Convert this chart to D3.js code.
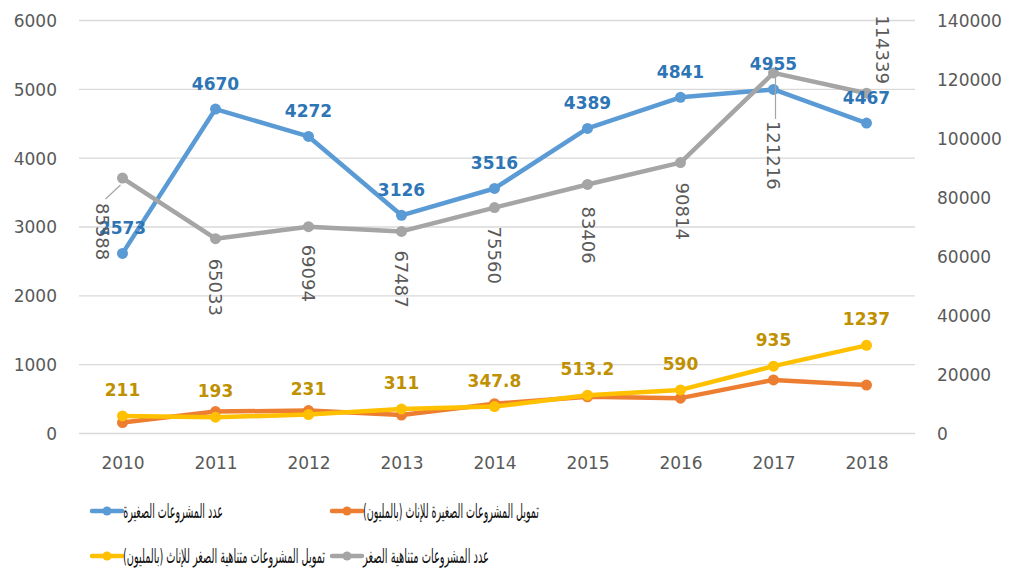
<!DOCTYPE html>
<html>
<head>
<meta charset="utf-8">
<script src="https://cdn.jsdelivr.net/npm/d3@7"></script>
<style>
  html, body { margin: 0; padding: 0; background: #fff; }
  svg { display: block; }
  text { font-family: "DejaVu Sans", sans-serif; }
</style>
</head>
<body>
<svg id="chart" width="1009" height="569"></svg>
<script>
// ---- data ----
const years = ["2010","2011","2012","2013","2014","2015","2016","2017","2018"];
const smallProjects = [2573, 4670, 4272, 3126, 3516, 4389, 4841, 4955, 4467];          // left axis
const femaleSmallFunding = [115, 275, 290, 225, 390, 490, 470, 735, 660];              // left axis
const microProjects = [85588, 65033, 69094, 67487, 75560, 83406, 90814, 121216, 114339]; // right axis
const femaleMicroFunding = [211, 193, 231, 311, 347.8, 513.2, 590, 935, 1237];         // left axis
const leftTicks = [0, 1000, 2000, 3000, 4000, 5000, 6000];
const rightTicks = [0, 20000, 40000, 60000, 80000, 100000, 120000, 140000];
const seriesNames = [
  "عدد المشروعات الصغيرة",
  "تمويل المشروعات الصغيرة للإناث (بالمليون)",
  "عدد المشروعات متناهية الصغر",
  "تمويل المشروعات متناهية الصغر للإناث (بالمليون)"
];

// ---- layout ----
const svg = d3.select("#chart");
const x = d3.scalePoint().domain(years).range([122.5, 866.5]);
const yL = d3.scaleLinear().domain([0, 6000]).range([433.5, 20.5]);
const yR = d3.scaleLinear().domain([0, 140000]).range([433.5, 20.5]);
const gridX0 = 79, gridX1 = 915;
const axisColor = "#595959";
const fmt = d3.format("d");

// gridlines (left axis)
svg.append("g").selectAll("line").data(leftTicks).join("line")
  .attr("x1", gridX0).attr("x2", gridX1)
  .attr("y1", d => yL(d)).attr("y2", d => yL(d))
  .attr("stroke", "#d9d9d9").attr("stroke-width", 1.3);

// left axis labels
const leftAxis = d3.axisLeft(yL).tickValues(leftTicks).tickFormat(fmt).tickSize(0).tickPadding(0);
const gl = svg.append("g").attr("transform", "translate(57,0)").call(leftAxis);
gl.select(".domain").remove();
gl.selectAll("text").attr("fill", axisColor).style("font-size", "17px").attr("dy", "0.35em");

// right axis labels
const rightAxis = d3.axisRight(yR).tickValues(rightTicks).tickFormat(fmt).tickSize(0).tickPadding(0);
const gr = svg.append("g").attr("transform", "translate(937,0)").call(rightAxis);
gr.select(".domain").remove();
gr.selectAll("text").attr("fill", axisColor).style("font-size", "17px").attr("dy", "0.35em");

// bottom axis labels
const bottomAxis = d3.axisBottom(x).tickSize(0).tickPadding(0);
const gb = svg.append("g").attr("transform", "translate(0,463)").call(bottomAxis);
gb.select(".domain").remove();
gb.selectAll("text").attr("fill", axisColor).style("font-size", "17px").attr("dy", "0.35em");

// ---- series ----
const dataLayer = svg.append("g").attr("transform", "translate(0,-3)");
const series = [
  { vals: smallProjects, y: yL, color: "#5B9BD5" },
  { vals: femaleSmallFunding, y: yL, color: "#ED7D31" },
  { vals: microProjects, y: yR, color: "#A5A5A5" },
  { vals: femaleMicroFunding, y: yL, color: "#FFC000" }
];

series.forEach(s => {
  const pts = s.vals.map((v, i) => [x(years[i]), s.y(v)]);
  dataLayer.append("path")
    .attr("d", d3.line()(pts))
    .attr("fill", "none").attr("stroke", s.color)
    .attr("stroke-width", 4.5).attr("stroke-linejoin", "round").attr("stroke-linecap", "round");
  dataLayer.append("g").selectAll("circle").data(pts).join("circle")
    .attr("cx", d => d[0]).attr("cy", d => d[1]).attr("r", 5.5)
    .attr("fill", s.color);
});

// ---- data labels ----
// blue (small projects)
dataLayer.append("g").selectAll("text").data(smallProjects).join("text")
  .attr("x", (d, i) => x(years[i]))
  .attr("y", (d, i) => yL(d) - 25)
  .attr("text-anchor", "middle").attr("dy", "0.35em")
  .attr("fill", "#2E75B6").style("font-size", "17px").style("font-weight", "bold")
  .text(d => d);

// yellow (female micro funding)
dataLayer.append("g").selectAll("text").data(femaleMicroFunding).join("text")
  .attr("x", (d, i) => x(years[i]))
  .attr("y", (d, i) => yL(d) - 26)
  .attr("text-anchor", "middle").attr("dy", "0.35em")
  .attr("fill", "#BF9000").style("font-size", "17px").style("font-weight", "bold")
  .text(d => d);

// gray (micro projects) rotated labels
const grayOffsets = [
  { dx: -20, dy: 25, leader: true },
  { dx: 0, dy: 20 }, { dx: 0, dy: 18 }, { dx: 0, dy: 19 }, { dx: 0, dy: 19 },
  { dx: 1, dy: 22 }, { dx: 2, dy: 20 },
  { dx: 0, dy: 48, leader: true },
  { dx: 16, dy: -78 }
];
const gg = dataLayer.append("g");
microProjects.forEach((v, i) => {
  const px = x(years[i]), py = yR(v);
  const o = grayOffsets[i];
  const lx = px + o.dx, ly = py + o.dy;
  if (o.leader) {
    if (o.dx !== 0) {
      gg.append("line").attr("x1", lx + 3).attr("y1", ly - 4).attr("x2", px - 2).attr("y2", py + 7)
        .attr("stroke", "#A5A5A5").attr("stroke-width", 1.2);
    } else {
      gg.append("line").attr("x1", px + 2).attr("y1", py + 5).attr("x2", px + 2).attr("y2", ly - 2)
        .attr("stroke", "#A5A5A5").attr("stroke-width", 1.2);
    }
  }
  gg.append("text")
    .attr("transform", `translate(${lx},${ly}) rotate(90)`)
    .attr("text-anchor", "start").attr("dominant-baseline", "central")
    .attr("fill", axisColor).style("font-size", "18px")
    .text(v);
});

// ---- legend ----
const legend = [
  { name: seriesNames[0], color: "#5B9BD5", mx: 92, y: 511, w: 100 },
  { name: seriesNames[1], color: "#ED7D31", mx: 332, y: 511, w: 176 },
  { name: seriesNames[3], color: "#FFC000", mx: 92, y: 556, w: 202 },
  { name: seriesNames[2], color: "#A5A5A5", mx: 332, y: 556, w: 126 }
];
const lg = svg.append("g");
legend.forEach(l => {
  lg.append("line").attr("x1", l.mx).attr("x2", l.mx + 30).attr("y1", l.y).attr("y2", l.y)
    .attr("stroke", l.color).attr("stroke-width", 4.5).attr("stroke-linecap", "round");
  lg.append("circle").attr("cx", l.mx + 15).attr("cy", l.y).attr("r", 4.5).attr("fill", l.color);
  const tg = lg.append("g");
  const t = tg.append("text")
    .attr("x", 0).attr("y", 0)
    .attr("direction", "rtl").attr("text-anchor", "start")
    .attr("dominant-baseline", "central")
    .attr("fill", "#111").style("font-size", "20px")
    .text(l.name);
  const natural = t.node().getComputedTextLength();
  const sx = l.w / natural;
  tg.attr("transform", `translate(${l.mx + 31 + l.w},${l.y}) scale(${sx},1)`);
});
</script>
</body>
</html>
